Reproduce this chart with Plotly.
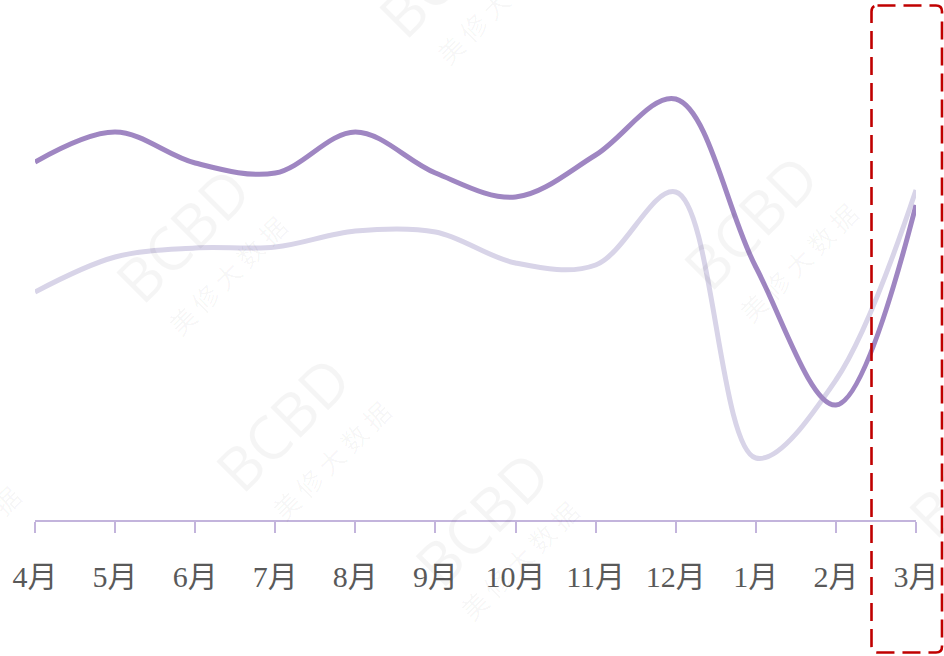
import plotly.graph_objects as go

# ---- data ----
months = ["4月", "5月", "6月", "7月", "8月", "9月", "10月", "11月", "12月", "1月", "2月", "3月"]
series_dark = [358, 388, 357, 347, 388, 347, 323, 365, 421, 253, 115, 315]
series_light = [228, 263, 272, 273, 289, 288, 257, 255, 328, 62, 140, 330]

W, H = 944, 656
ML, MR, MT, MB = 35, 28, 0, 136
PW, PH = W - ML - MR, H - MT - MB


def px_to_paper(x, y):
    return (x - ML) / PW, (H - MB - y) / PH


fig = go.Figure()
fig.add_trace(go.Scatter(
    x=months, y=series_light, mode="lines",
    line=dict(color="#D8D4E8", width=5, shape="spline", smoothing=1.0),
    hoverinfo="skip", showlegend=False))
fig.add_trace(go.Scatter(
    x=months, y=series_dark, mode="lines",
    line=dict(color="#9F86C2", width=5, shape="spline", smoothing=1.0),
    hoverinfo="skip", showlegend=False))

# dashed rounded highlight box around last category
x0, y0, x1, y1, r = 871.5, 5.5, 942.0, 652.5, 6


def P(x, y):
    a, b = px_to_paper(x, y)
    return f"{a:.5f},{b:.5f}"


path = (f"M {P(x0 + r, y0)} L {P(x1 - r, y0)} Q {P(x1, y0)} {P(x1, y0 + r)} "
        f"L {P(x1, y1 - r)} Q {P(x1, y1)} {P(x1 - r, y1)} "
        f"L {P(x0 + r, y1)} Q {P(x0, y1)} {P(x0, y1 - r)} "
        f"L {P(x0, y0 + r)} Q {P(x0, y0)} {P(x0 + r, y0)} Z")
fig.add_shape(type="path", path=path, xref="paper", yref="paper",
              line=dict(color="#C00000", width=2.6, dash="18px,8px"))

# watermarks
wm_logo = [(182, 235), (282, 424), (482, 518), (750, 222), (445, -30), (975, 470)]
wm_text = [(226, 275), (330, 460), (518, 560), (797, 262), (495, 5), (-40, 545)]
for (x, y) in wm_logo:
    a, b = px_to_paper(x, y)
    fig.add_annotation(x=a, y=b, xref="paper", yref="paper", text="BCBD",
                       xanchor="center", yanchor="middle",
                       showarrow=False, textangle=-45,
                       font=dict(family="Open Sans", size=60, color="rgba(0,0,0,0.04)"))
for (x, y) in wm_text:
    a, b = px_to_paper(x, y)
    fig.add_annotation(x=a, y=b, xref="paper", yref="paper", text="美 修 大 数 据",
                       xanchor="center", yanchor="middle",
                       showarrow=False, textangle=-45,
                       font=dict(family="Noto Sans CJK SC", size=26, color="rgba(0,0,0,0.04)"))

fig.update_layout(
    width=W, height=H, autosize=False,
    margin=dict(l=ML, r=MR, t=MT, b=MB, pad=0),
    paper_bgcolor="white", plot_bgcolor="white",
    xaxis=dict(type="category", range=[0, len(months) - 1], showgrid=False, zeroline=False,
               showline=True, linecolor="#C3B4DC", linewidth=2,
               ticks="outside", ticklen=11, tickwidth=2, tickcolor="#C3B4DC",
               ticklabelstandoff=18,
               tickfont=dict(family="Liberation Serif, Noto Sans CJK SC", size=30, color="#595959")),
    yaxis=dict(range=[0, 520], visible=False, showgrid=False, zeroline=False),
)

fig.write_html("out.html", config={"displayModeBar": False},
               post_script="document.body.style.margin='0';")
